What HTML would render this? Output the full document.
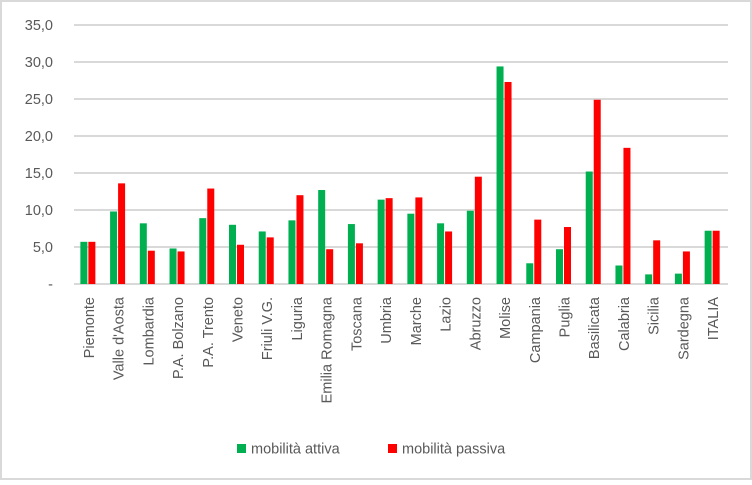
<!DOCTYPE html>
<html><head><meta charset="utf-8"><style>
body{margin:0;background:#fff}
svg text{font-family:"Liberation Sans",sans-serif;fill:#595959}
</style></head><body>
<svg id="chart" width="752" height="480">
<rect x="1" y="1" width="750" height="478" fill="#fff" stroke="#d9d9d9" stroke-width="2"/>
<g id="grid"></g><g id="bars"></g><g id="labels"></g>
<g>
<rect x="237" y="444" width="9" height="9" fill="#00b050"/>
<text x="251" y="453.5" font-size="14.5">mobilità attiva</text>
<rect x="388" y="444" width="9" height="9" fill="#ff0000"/>
<text x="402" y="453.5" font-size="14.5">mobilità passiva</text>
</g>
</svg>
<script>
const categories=["Piemonte","Valle d'Aosta","Lombardia","P.A. Bolzano","P.A. Trento","Veneto","Friuli V.G.","Liguria","Emilia Romagna","Toscana","Umbria","Marche","Lazio","Abruzzo","Molise","Campania","Puglia","Basilicata","Calabria","Sicilia","Sardegna","ITALIA"];
const attiva=[5.7,9.8,8.2,4.8,8.9,8.0,7.1,8.6,12.7,8.1,11.4,9.5,8.2,9.9,29.4,2.8,4.7,15.2,2.5,1.3,1.4,7.2];
const passiva=[5.7,13.6,4.5,4.4,12.9,5.3,6.3,12.0,4.7,5.5,11.6,11.7,7.1,14.5,27.3,8.7,7.7,24.9,18.4,5.9,4.4,7.2];
const ticks=[0,5,10,15,20,25,30,35];
const tickLabels=["-","5,0","10,0","15,0","20,0","25,0","30,0","35,0"];
const NS="http://www.w3.org/2000/svg";
const x0=74,x1=728,yBase=284,pxPerUnit=37/5;
const y=v=>yBase-v*pxPerUnit;
const band=(x1-x0)/categories.length;
const cx=i=>x0+band*(i+0.5);
function mk(t,a,p){const e=document.createElementNS(NS,t);for(const k in a)e.setAttribute(k,a[k]);p.appendChild(e);return e;}
const grid=document.getElementById('grid'),bars=document.getElementById('bars'),labels=document.getElementById('labels');
ticks.forEach((t,i)=>{
  const l=mk('line',{x1:x0,x2:x1,y1:y(t),y2:y(t),stroke:'#d9d9d9','stroke-width':2},grid);
  
  
  const tx=mk('text',{x:53,y:y(t)+5,'font-size':14.5,'text-anchor':'end'},grid);
  tx.textContent=tickLabels[i];
  
  
});
categories.forEach((c,i)=>{
  const g=mk('rect',{x:cx(i)-8.5,y:y(attiva[i]),width:7,height:attiva[i]*pxPerUnit,fill:'#00b050'},bars);
  
  
  const r=mk('rect',{x:cx(i)-0.5,y:y(passiva[i]),width:7,height:passiva[i]*pxPerUnit,fill:'#ff0000'},bars);
  
  
  const t=mk('text',{x:0,y:0,'font-size':14.5,'text-anchor':'end',transform:`translate(${cx(i)+5},297) rotate(-90)`},labels);
  t.textContent=c;
  
  
});
</script>
</body></html>
